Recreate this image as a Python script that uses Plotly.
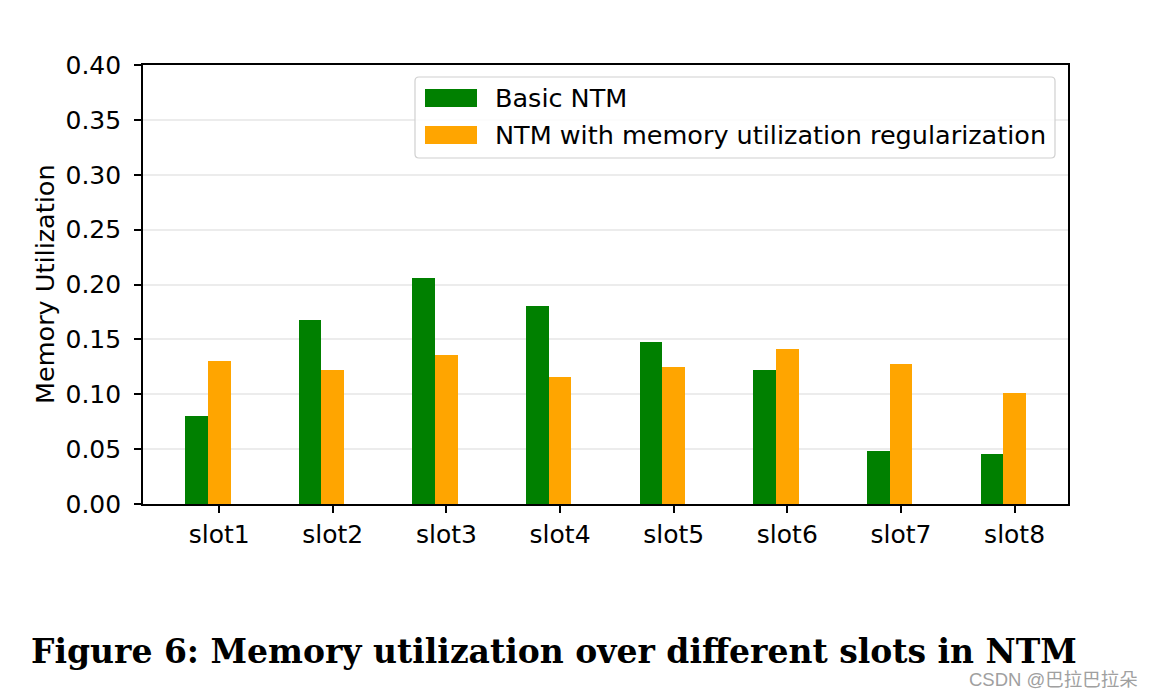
import plotly.graph_objects as go

# ---------------- data ----------------
slots = ["slot1", "slot2", "slot3", "slot4", "slot5", "slot6", "slot7", "slot8"]
basic_ntm = [0.080, 0.168, 0.206, 0.180, 0.148, 0.122, 0.048, 0.046]
ntm_reg = [0.130, 0.122, 0.136, 0.116, 0.125, 0.141, 0.128, 0.101]
y_ticks = [0.00, 0.05, 0.10, 0.15, 0.20, 0.25, 0.30, 0.35, 0.40]
series_names = ["Basic NTM", "NTM with memory utilization regularization"]
series_colors = ["#008000", "#FFA500"]
caption = "Figure 6: Memory utilization over different slots in NTM"
watermark = "CSDN @巴拉巴拉朵"

# ---------------- geometry ----------------
OFF = 8  # page body margin
W, H = 1154 - OFF, 696 - OFF
L, R, T, B = 143 - OFF, 1068 - OFF, 65 - OFF, 504 - OFF  # plot area (figure px)
PW, PH = R - L, B - T


def px(x):
    """reference-screen x pixel -> paper coordinate"""
    return (x - OFF - L) / PW


def py(y):
    """reference-screen y pixel -> paper coordinate"""
    return (B - (y - OFF)) / PH


FONT = "DejaVu Sans"

fig = go.Figure()
fig.add_trace(go.Bar(x=slots, y=basic_ntm, name=series_names[0],
                     marker=dict(color=series_colors[0], line=dict(width=0)),
                     width=0.2, offset=-0.3, showlegend=False))
fig.add_trace(go.Bar(x=slots, y=ntm_reg, name=series_names[1],
                     marker=dict(color=series_colors[1], line=dict(width=0)),
                     width=0.2, offset=-0.1, showlegend=False))

# manual matplotlib-like legend
bx0, bx1, by0, by1 = 415, 1055, 77, 158
r = 4
rx, ry = r / PW, r / PH
X0, X1, Y0, Y1 = px(bx0), px(bx1), py(by1), py(by0)
path = (f"M {X0+rx},{Y0} L {X1-rx},{Y0} Q {X1},{Y0} {X1},{Y0+ry} "
        f"L {X1},{Y1-ry} Q {X1},{Y1} {X1-rx},{Y1} L {X0+rx},{Y1} "
        f"Q {X0},{Y1} {X0},{Y1-ry} L {X0},{Y0+ry} Q {X0},{Y0} {X0+rx},{Y0} Z")
shapes = [dict(type="path", path=path, xref="paper", yref="paper",
               fillcolor="rgba(255,255,255,0.85)",
               line=dict(color="#d0d0d0", width=1.2), layer="above")]
annotations = []
rows = [(89, 107, 98), (126, 144, 135)]
for (s0, s1, tc), name, col in zip(rows, series_names, series_colors):
    shapes.append(dict(type="rect", xref="paper", yref="paper",
                       x0=px(425), x1=px(477), y0=py(s1), y1=py(s0),
                       fillcolor=col, line=dict(width=0), layer="above"))
    annotations.append(dict(x=px(493), y=py(tc), xref="paper", yref="paper",
                            text=name, showarrow=False, xanchor="left",
                            yanchor="middle",
                            font=dict(family=FONT, size=25.5, color="black")))

annotations.append(dict(x=px(45), y=py(284), xref="paper", yref="paper",
                        text="Memory Utilization", textangle=-90,
                        showarrow=False, xanchor="center", yanchor="middle",
                        font=dict(family=FONT, size=25.5, color="black")))
annotations.append(dict(x=px(29), y=py(651), xref="paper", yref="paper",
                        text="<b>" + caption + "</b>", showarrow=False,
                        xanchor="left", yanchor="middle",
                        font=dict(family="DejaVu Serif", size=33,
                                  color="black")))
annotations.append(dict(x=px(967), y=py(679), xref="paper", yref="paper",
                        text=watermark, showarrow=False,
                        xanchor="left", yanchor="middle",
                        font=dict(family="Liberation Sans, Noto Sans CJK SC",
                                  size=18.5, color="#a0a0a0")))

fig.update_layout(
    width=W, height=H,
    margin=dict(l=L, r=W - R, t=T, b=H - B, pad=0),
    paper_bgcolor="white", plot_bgcolor="white",
    bargap=0, barmode="overlay",
    shapes=shapes, annotations=annotations,
    font=dict(family=FONT, size=25, color="black"),
)
fig.update_xaxes(
    range=[-0.67, 7.47], showline=True, linecolor="black", linewidth=1.6,
    mirror=True, ticks="outside", ticklen=7, tickwidth=1.6,
    tickcolor="black", showgrid=False, zeroline=False,
    tickfont=dict(family=FONT, size=25, color="black"),
    ticklabelstandoff=0,
)
fig.update_yaxes(
    range=[0, 0.4], tickvals=y_ticks, ticktext=[f"{v:.2f}" for v in y_ticks],
    showline=True, linecolor="black", linewidth=1.6, mirror=True,
    ticks="outside", ticklen=7, tickwidth=1.6, tickcolor="black",
    showgrid=True, gridcolor="rgba(170,170,170,0.22)", gridwidth=1.6,
    zeroline=False, layer="above traces",
    tickfont=dict(family=FONT, size=25, color="black"),
    ticklabelstandoff=8,
)

fig.write_html("out.html")
